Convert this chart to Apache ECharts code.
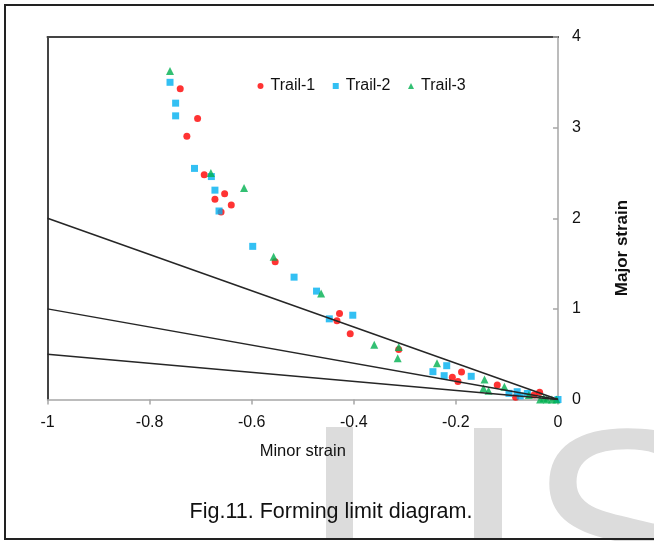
<!DOCTYPE html>
<html><head><meta charset="utf-8">
<script src="https://cdn.jsdelivr.net/npm/echarts@6/dist/echarts.min.js"></script>
<style>html,body{margin:0;padding:0;background:#fff}#c{width:654px;height:541px}</style>
</head><body><div id="c"></div>
<script>
// Trail-1 (red circles): [minor strain, major strain]
const trail1 = [
  [-0.740,3.43],[-0.706,3.10],[-0.727,2.905],[-0.693,2.48],[-0.653,2.27],
  [-0.672,2.21],[-0.640,2.145],[-0.660,2.07],[-0.554,1.52],[-0.428,0.95],
  [-0.433,0.87],[-0.407,0.725],[-0.312,0.553],[-0.189,0.303],[-0.207,0.245],
  [-0.196,0.20],[-0.119,0.16],[-0.083,0.024],[-0.047,0.05],[-0.036,0.08]
];
// Trail-2 (blue squares)
const trail2 = [
  [-0.760,3.50],[-0.749,3.27],[-0.749,3.13],[-0.712,2.55],[-0.679,2.46],
  [-0.672,2.31],[-0.664,2.08],[-0.598,1.69],[-0.517,1.35],[-0.473,1.196],
  [-0.448,0.89],[-0.402,0.93],[-0.245,0.307],[-0.218,0.373],[-0.223,0.263],
  [-0.170,0.256],[-0.096,0.068],[-0.080,0.086],[-0.074,0.04],[-0.060,0.066],[0.0,0.0]
];
// Trail-3 (green triangles)
const trail3 = [
  [-0.760,3.625],[-0.680,2.50],[-0.615,2.335],[-0.557,1.575],[-0.464,1.17],
  [-0.360,0.605],[-0.312,0.58],[-0.314,0.455],[-0.237,0.40],[-0.144,0.22],
  [-0.146,0.125],[-0.136,0.097],[-0.105,0.14],[-0.057,0.05],[-0.028,0.013],
  [-0.035,0.0],[-0.022,0.0],[-0.012,0.0],[-0.003,0.0]
];
// Limit lines (major = k * |minor|)
const limitLine1 = [[-1,2],[0,0]];
const limitLine2 = [[-1,1],[0,0]];
const limitLine3 = [[-1,0.5],[0,0]];
const seriesNames = ['Trail-1','Trail-2','Trail-3'];
const xTicks = {min:-1, max:0, step:0.2};
const yTicks = {min:0, max:4, step:1};
const xName = 'Minor strain';
const yName = 'Major strain';
const caption = 'Fig.11. Forming limit diagram.';

const FF = 'Liberation Sans, Arial, sans-serif';
const chart = echarts.init(document.getElementById('c'), null, {renderer:'canvas'});
const lineSeries = (d) => ({type:'line', data:d, symbol:'none', silent:true, z:3,
  lineStyle:{color:'#262626', width:1.5}});
chart.setOption({
  animation:false,
  backgroundColor:'#fff',
  grid:{left:47.5, right:96, top:37, bottom:141.5, containLabel:false},
  legend:{data:seriesNames, left:257.5, top:78, padding:0, itemWidth:6, itemHeight:6, itemGap:17.5,
    textStyle:{fontSize:16, color:'#111', fontFamily:FF, padding:[0,0,0,2]}},
  xAxis:[{type:'value', min:xTicks.min, max:xTicks.max, interval:xTicks.step, position:'bottom',
      axisLine:{show:true, onZero:false, lineStyle:{color:'#a6a6a6', width:1.5}},
      axisTick:{show:true, length:5, lineStyle:{color:'#a6a6a6', width:1.5}},
      axisLabel:{fontSize:16, color:'#111', margin:15, fontFamily:FF},
      splitLine:{show:false},
      name:xName, nameLocation:'middle', nameGap:43,
      nameTextStyle:{fontSize:16.5, color:'#111', fontFamily:FF}},
    {type:'value', min:xTicks.min, max:xTicks.max, position:'top',
      axisLine:{show:true, onZero:false, lineStyle:{color:'#444', width:2}},
      axisTick:{show:false}, axisLabel:{show:false}, splitLine:{show:false}}],
  yAxis:[{type:'value', min:yTicks.min, max:yTicks.max, interval:yTicks.step, position:'right',
      axisLine:{show:true, onZero:false, lineStyle:{color:'#a6a6a6', width:1.5}},
      axisTick:{show:true, inside:true, length:5, lineStyle:{color:'#a6a6a6', width:1.5}},
      axisLabel:{fontSize:16, color:'#111', margin:14, fontFamily:FF},
      splitLine:{show:false}},
    {type:'value', min:yTicks.min, max:yTicks.max, position:'left',
      axisLine:{show:true, onZero:false, lineStyle:{color:'#444', width:2}},
      axisTick:{show:false}, axisLabel:{show:false}, splitLine:{show:false}}],
  series:[
    {name:seriesNames[0], type:'scatter', data:trail1, symbol:'circle', symbolSize:7,
      itemStyle:{color:'#ff0000'}, z:2},
    {name:seriesNames[1], type:'scatter', data:trail2, symbol:'rect', symbolSize:7,
      itemStyle:{color:'#00b0f0'}, z:2},
    {name:seriesNames[2], type:'scatter', data:trail3, symbol:'triangle', symbolSize:8,
      itemStyle:{color:'#00b050'}, z:2},
    lineSeries(limitLine1), lineSeries(limitLine2), lineSeries(limitLine3)
  ],
  graphic:[
    {type:'rect', z:0, shape:{x:326, y:427, width:27, height:112}, style:{fill:'#dcdcdc'}},
    {type:'rect', z:0, shape:{x:474, y:428, width:28, height:111}, style:{fill:'#dcdcdc'}},
    {type:'text', z:0, style:{text:'S', x:526, y:405, font:'300px Liberation Sans', fill:'#dcdcdc',
      textAlign:'left', verticalAlign:'top'}},
    {type:'text', z:10, x:622, y:248, rotation:Math.PI/2,
      style:{text:yName, x:0, y:0, font:'bold 17px Liberation Sans', fill:'#111',
      textAlign:'center', verticalAlign:'middle'}},
    {type:'text', z:10, style:{text:caption, x:331, y:512, font:'21.5px Liberation Sans', fill:'#111',
      textAlign:'center', verticalAlign:'middle'}},
    {type:'rect', z:10, shape:{x:5, y:5, width:720, height:534}, style:{fill:'none', stroke:'#222', lineWidth:2}}
  ]
});
</script></body></html>
